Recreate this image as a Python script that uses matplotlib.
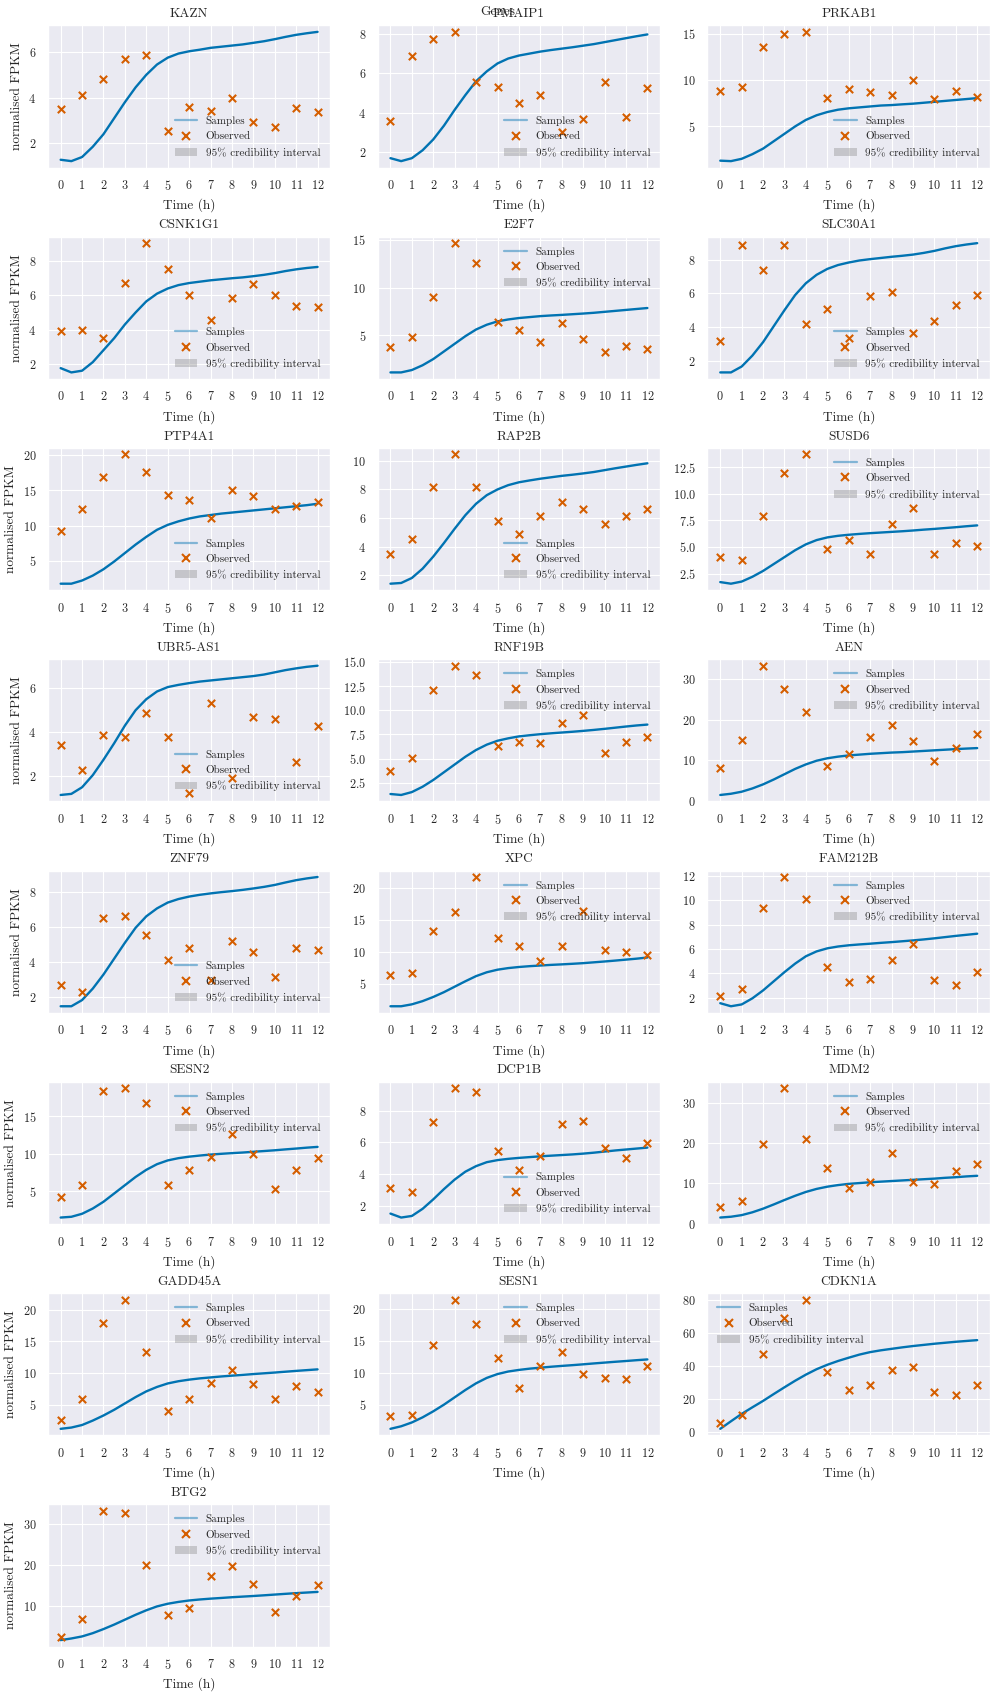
import matplotlib
matplotlib.use("Agg")
import matplotlib.pyplot as plt
import seaborn as sns
from matplotlib.lines import Line2D
from matplotlib.patches import Patch
from matplotlib.ticker import MultipleLocator

GENES = ["KAZN", "PMAIP1", "PRKAB1", "CSNK1G1", "E2F7", "SLC30A1", "PTP4A1", "RAP2B",
         "SUSD6", "UBR5-AS1", "RNF19B", "AEN", "ZNF79", "XPC", "FAM212B", "SESN2",
         "DCP1B", "MDM2", "GADD45A", "SESN1", "CDKN1A", "BTG2"]

TIMES = [0, 1, 2, 3, 4, 5, 6, 7, 8, 9, 10, 11, 12]
CURVE_T = [0, 0.5, 1, 1.5, 2, 2.5, 3, 3.5, 4, 4.5, 5, 5.5, 6, 6.5, 7, 7.5, 8, 8.5,
           9, 9.5, 10, 10.5, 11, 11.5, 12]

# observed normalised FPKM, one row per gene (same order as GENES)
OBSERVED = [
    [3.5, 4.1, 4.8, 5.7, 5.85, 2.55, 3.6, 3.4, 4.0, 2.95, 2.7, 3.55, 3.35],
    [3.6, 6.9, 7.75, 8.1, 5.55, 5.3, 4.5, 4.9, 3.05, 3.7, 5.55, 3.8, 5.25],
    [8.8, 9.2, 13.6, 15.0, 15.2, 8.1, 9.0, 8.7, 8.4, 10.0, 8.0, 8.8, 8.2],
    [3.9, 4.0, 3.5, 6.7, 9.05, 7.55, 6.0, 4.55, 5.85, 6.65, 6.05, 5.35, 5.3],
    [3.8, 4.8, 9.0, 14.65, 12.6, 6.43, 5.5, 4.27, 6.26, 4.58, 3.2, 3.88, 3.53],
    [3.17, 8.85, 7.37, 8.85, 4.16, 5.09, 3.35, 5.82, 6.06, 3.66, 4.34, 5.29, 5.88],
    [9.23, 12.4, 16.9, 20.1, 17.6, 14.4, 13.7, 11.1, 15.1, 14.2, 12.4, 12.8, 13.35],
    [3.5, 4.55, 8.15, 10.45, 8.15, 5.8, 4.9, 6.15, 7.15, 6.6, 5.6, 6.15, 6.6],
    [4.1, 3.8, 7.96, 12.0, 13.7, 4.83, 5.69, 4.36, 7.2, 8.62, 4.36, 5.4, 5.06],
    [3.44, 2.27, 3.89, 3.77, 4.86, 3.77, 1.25, 5.33, 1.93, 4.7, 4.6, 2.63, 4.29],
    [3.77, 5.08, 12.1, 14.6, 13.6, 6.36, 6.67, 6.6, 8.73, 9.46, 5.63, 6.77, 7.22],
    [8.2, 15.1, 33.2, 27.6, 21.9, 8.5, 11.6, 15.8, 18.7, 14.7, 9.8, 13.0, 16.4],
    [2.73, 2.33, 6.5, 6.61, 5.54, 4.14, 4.83, 2.99, 5.2, 4.59, 3.14, 4.83, 4.7],
    [6.45, 6.65, 13.2, 16.2, 21.65, 12.2, 10.85, 8.6, 10.95, 16.4, 10.2, 10.0, 9.55],
    [2.11, 2.71, 9.39, 11.9, 10.13, 4.5, 3.26, 3.57, 5.08, 6.4, 3.48, 3.04, 4.09],
    [4.24, 5.8, 18.38, 18.7, 16.78, 5.8, 7.8, 9.49, 12.56, 10.0, 5.36, 7.8, 9.44],
    [3.12, 2.86, 7.3, 9.42, 9.2, 5.48, 4.28, 5.12, 7.18, 7.37, 5.65, 5.02, 5.99],
    [4.2, 5.7, 19.8, 33.55, 20.9, 13.7, 8.9, 10.3, 17.6, 10.2, 9.9, 13.05, 14.7],
    [2.64, 5.95, 17.85, 21.57, 13.3, 4.0, 5.95, 8.46, 10.4, 8.3, 5.95, 7.94, 7.05],
    [3.17, 3.43, 14.3, 21.5, 17.6, 12.3, 7.68, 11.0, 13.3, 9.83, 9.25, 9.1, 11.0],
    [5.3, 10.2, 47.2, 69.3, 80.4, 36.1, 25.3, 28.2, 37.5, 39.1, 23.9, 22.1, 28.4],
    [2.28, 6.67, 33.25, 32.7, 20.0, 7.8, 9.5, 17.3, 19.76, 15.4, 8.46, 12.3, 15.1],
]

# posterior mean of the samples, read every half hour
MEAN = [
    [1.28, 1.22, 1.4, 1.85, 2.4, 3.1, 3.8, 4.45, 5.0, 5.45, 5.75, 5.93, 6.03, 6.1, 6.18, 6.23, 6.28, 6.33, 6.4, 6.47, 6.56, 6.66, 6.75, 6.82, 6.88],
    [1.7, 1.55, 1.7, 2.1, 2.65, 3.35, 4.15, 4.9, 5.6, 6.1, 6.5, 6.75, 6.9, 7.0, 7.1, 7.18, 7.25, 7.32, 7.4, 7.48, 7.58, 7.68, 7.78, 7.88, 7.97],
    [1.3, 1.25, 1.5, 2.0, 2.6, 3.4, 4.2, 5.0, 5.7, 6.2, 6.55, 6.8, 6.95, 7.05, 7.15, 7.25, 7.3, 7.38, 7.45, 7.55, 7.65, 7.75, 7.85, 7.95, 8.05],
    [1.75, 1.5, 1.6, 2.1, 2.8, 3.5, 4.3, 5.0, 5.65, 6.1, 6.4, 6.6, 6.72, 6.8, 6.88, 6.94, 7.0, 7.05, 7.12, 7.2, 7.3, 7.42, 7.52, 7.6, 7.66],
    [1.1, 1.1, 1.35, 1.85, 2.5, 3.3, 4.1, 4.9, 5.6, 6.1, 6.45, 6.65, 6.8, 6.9, 7.0, 7.07, 7.13, 7.2, 7.27, 7.35, 7.45, 7.55, 7.65, 7.75, 7.85],
    [1.3, 1.3, 1.65, 2.3, 3.1, 4.05, 5.0, 5.9, 6.6, 7.1, 7.45, 7.68, 7.83, 7.95, 8.03, 8.1, 8.17, 8.23, 8.3, 8.4, 8.52, 8.67, 8.8, 8.9, 8.98],
    [1.75, 1.75, 2.2, 2.9, 3.8, 4.9, 6.1, 7.3, 8.4, 9.4, 10.1, 10.6, 11.0, 11.3, 11.5, 11.7, 11.85, 12.0, 12.15, 12.3, 12.45, 12.6, 12.75, 12.9, 13.1],
    [1.4, 1.45, 1.8, 2.45, 3.3, 4.25, 5.25, 6.2, 7.0, 7.6, 8.0, 8.3, 8.5, 8.63, 8.75, 8.85, 8.95, 9.03, 9.12, 9.22, 9.35, 9.48, 9.6, 9.72, 9.83],
    [1.7, 1.55, 1.75, 2.2, 2.75, 3.4, 4.05, 4.7, 5.25, 5.65, 5.9, 6.05, 6.15, 6.23, 6.3, 6.36, 6.42, 6.48, 6.55, 6.63, 6.7, 6.78, 6.86, 6.95, 7.03],
    [1.15, 1.2, 1.5, 2.05, 2.75, 3.5, 4.3, 5.0, 5.5, 5.85, 6.05, 6.15, 6.23, 6.3, 6.35, 6.4, 6.45, 6.5, 6.55, 6.62, 6.72, 6.82, 6.9, 6.97, 7.02],
    [1.35, 1.25, 1.55, 2.1, 2.8, 3.6, 4.4, 5.2, 5.9, 6.45, 6.85, 7.1, 7.3, 7.42, 7.53, 7.62, 7.7, 7.78, 7.87, 7.97, 8.08, 8.2, 8.32, 8.43, 8.52],
    [1.5, 1.8, 2.3, 3.1, 4.1, 5.3, 6.6, 7.9, 9.0, 9.9, 10.5, 10.9, 11.2, 11.4, 11.6, 11.75, 11.9, 12.0, 12.15, 12.3, 12.45, 12.6, 12.75, 12.88, 13.0],
    [1.5, 1.5, 1.85, 2.5, 3.3, 4.2, 5.1, 5.95, 6.6, 7.05, 7.38, 7.58, 7.72, 7.82, 7.9, 7.97, 8.03, 8.1, 8.18, 8.27, 8.38, 8.52, 8.65, 8.75, 8.83],
    [1.5, 1.5, 1.8, 2.3, 2.95, 3.7, 4.55, 5.4, 6.2, 6.8, 7.2, 7.45, 7.62, 7.75, 7.85, 7.95, 8.03, 8.12, 8.22, 8.35, 8.48, 8.62, 8.77, 8.92, 9.1],
    [1.55, 1.3, 1.45, 1.95, 2.6, 3.35, 4.1, 4.8, 5.4, 5.8, 6.05, 6.2, 6.3, 6.37, 6.43, 6.5, 6.56, 6.63, 6.7, 6.78, 6.87, 6.97, 7.07, 7.16, 7.25],
    [1.5, 1.6, 2.0, 2.7, 3.6, 4.7, 5.8, 6.9, 7.85, 8.6, 9.1, 9.4, 9.6, 9.75, 9.88, 9.98, 10.07, 10.15, 10.25, 10.35, 10.45, 10.57, 10.68, 10.8, 10.9],
    [1.5, 1.25, 1.35, 1.8, 2.4, 3.05, 3.65, 4.15, 4.5, 4.75, 4.88, 4.96, 5.02, 5.07, 5.12, 5.16, 5.2, 5.24, 5.29, 5.35, 5.42, 5.49, 5.55, 5.61, 5.67],
    [1.5, 1.7, 2.1, 2.8, 3.7, 4.75, 5.85, 6.9, 7.85, 8.6, 9.15, 9.55, 9.85, 10.05, 10.25, 10.4, 10.55, 10.7, 10.85, 11.0, 11.15, 11.35, 11.5, 11.7, 11.85],
    [1.2, 1.4, 1.8, 2.5, 3.3, 4.2, 5.2, 6.2, 7.1, 7.8, 8.35, 8.7, 8.95, 9.15, 9.3, 9.45, 9.58, 9.7, 9.83, 9.95, 10.07, 10.2, 10.33, 10.45, 10.57],
    [1.2, 1.6, 2.2, 3.0, 3.95, 5.0, 6.15, 7.3, 8.35, 9.2, 9.8, 10.2, 10.45, 10.65, 10.8, 10.95, 11.08, 11.2, 11.33, 11.47, 11.6, 11.73, 11.85, 11.98, 12.1],
    [1.7, 6.3, 10.8, 14.8, 18.7, 22.9, 27.0, 31.0, 34.7, 38.0, 40.7, 43.0, 45.0, 46.9, 48.4, 49.5, 50.4, 51.3, 52.1, 52.8, 53.5, 54.1, 54.7, 55.2, 55.7],
    [1.6, 2.0, 2.5, 3.3, 4.3, 5.4, 6.6, 7.8, 8.9, 9.85, 10.5, 10.95, 11.3, 11.55, 11.75, 11.92, 12.1, 12.25, 12.4, 12.57, 12.75, 12.93, 13.1, 13.25, 13.4],
]

# y tick spacing per panel
YSTEP = [2, 2, 5, 2, 5, 2, 5, 2, 2.5, 2, 2.5, 10, 2, 5, 2, 5, 2, 10, 5, 5, 20, 10]

LEG_LOC = ["lower right", "lower right", "lower right",
           "lower right", "upper right", "lower right",
           "lower right", "lower right", "upper right",
           "lower right", "upper right", "upper right",
           "lower right", "upper right", "upper right",
           "upper right", "lower right", "upper right",
           "upper right", "upper right", "upper left",
           "upper right"]

BLUE = "#0173b2"
ORANGE = "#d55e00"

sns.set_theme(context="paper", style="darkgrid")
plt.rcParams["font.family"] = ["cmr10", "DejaVu Serif"]
plt.rcParams["mathtext.fontset"] = "cm"
plt.rcParams["axes.formatter.use_mathtext"] = True
plt.rcParams["legend.fontsize"] = 8

fig, axes = plt.subplots(8, 3, figsize=(9.96, 16.94), dpi=100)
fig.subplots_adjust(left=0.048, right=0.994, top=0.985, bottom=0.028,
                    wspace=0.167, hspace=0.486)
axes = axes.ravel()

for i, g in enumerate(GENES):
    ax = axes[i]
    ax.plot(CURVE_T, MEAN[i], color=BLUE, lw=1.7, zorder=3)
    ax.scatter(TIMES, OBSERVED[i], marker="x", color=ORANGE, s=28,
               linewidths=1.5, zorder=4)
    ax.set_xticks(TIMES)
    ax.yaxis.set_major_locator(MultipleLocator(YSTEP[i]))
    ax.set_title(g)
    ax.set_xlabel("Time (h)")
    if i % 3 == 0:
        ax.set_ylabel("normalised FPKM")
    handles = [Line2D([], [], color=BLUE, alpha=0.45, lw=1.6),
               Line2D([], [], color=ORANGE, marker="x", ls="none",
                      markersize=5.5, markeredgewidth=1.5),
               Patch(facecolor="gray", alpha=0.35, edgecolor="none")]
    ax.legend(handles, ["Samples", "Observed", "95% credibility interval"],
              loc=LEG_LOC[i], frameon=False)

for ax in axes[len(GENES):]:
    ax.set_visible(False)

fig.suptitle("Genes", y=0.9965, fontsize=9.6)
fig.savefig("out.png", dpi=100)
